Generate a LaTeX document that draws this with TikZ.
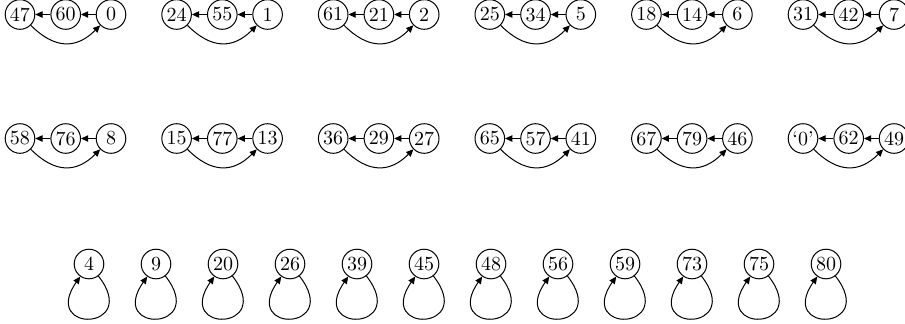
\documentclass[tikz,border=0pt]{standalone}
\usetikzlibrary{arrows.meta}
\tikzset{
  vnode/.style={circle, draw, line width=0.5pt, minimum size=14.8pt, inner sep=0pt, font=\normalsize},
  arr/.style={-{Triangle[length=3.6pt,width=3.2pt]}, line width=0.5pt},
}
\begin{document}
\begin{tikzpicture}[x=0.5pt,y=0.5pt]
\useasboundingbox (0,0) rectangle (905,-323);
% first row of 3-cycles
\foreach \a/\b/\c [count=\i from 0] in {47/60/0,24/55/1,61/21/2,25/34/5,18/14/6,31/42/7}{
  \pgfmathsetmacro\xx{20+156.6*\i}
  \node[vnode] (p\i a) at (\xx,-14.5) {\a};
  \node[vnode] (p\i b) at (\xx+45.7,-14.5) {\b};
  \node[vnode] (p\i c) at (\xx+91,-14.5) {\c};
  \draw[arr] (p\i b) -- (p\i a);
  \draw[arr] (p\i c) -- (p\i b);
  \draw[arr] (p\i a) to[out=-45,in=-135,looseness=1.25] (p\i c);
}
% second row of 3-cycles
\foreach \a/\b/\c [count=\i from 0] in {58/76/8,15/77/13,36/29/27,65/57/41,67/79/46,‘0’/62/49}{
  \pgfmathsetmacro\xx{20+156.6*\i}
  \node[vnode] (q\i a) at (\xx,-138.5) {\a};
  \node[vnode] (q\i b) at (\xx+45.7,-138.5) {\b};
  \node[vnode] (q\i c) at (\xx+91,-138.5) {\c};
  \draw[arr] (q\i b) -- (q\i a);
  \draw[arr] (q\i c) -- (q\i b);
  \draw[arr] (q\i a) to[out=-45,in=-135,looseness=1.25] (q\i c);
}
% fixed points with self-loops
\foreach \v [count=\i from 0] in {4,9,20,26,39,45,48,56,59,73,75,80}{
  \node[vnode] (s\i) at (89+67*\i,-264) {\v};
  \draw[arr] (s\i) to[out=-52,in=-125,min distance=35pt] (s\i);
}
\end{tikzpicture}
\end{document}
